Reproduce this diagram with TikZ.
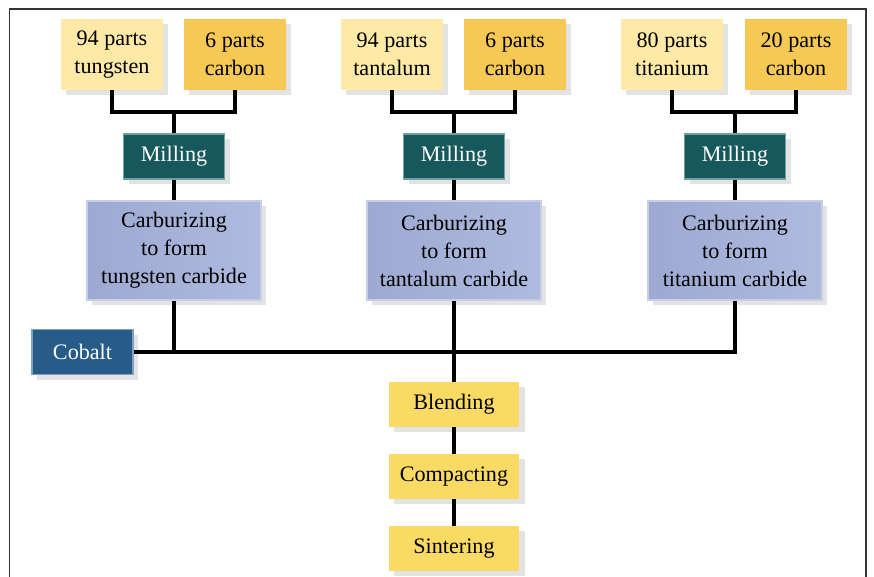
\documentclass[tikz,border=0pt]{standalone}
\usepackage{fontspec}
\setmainfont{Liberation Serif}
\usetikzlibrary{shadows}

\definecolor{metallight}{HTML}{FEE9A7}
\definecolor{carbonfill}{HTML}{F6C955}
\definecolor{millfill}{HTML}{16585B}
\definecolor{millline}{HTML}{6FA3A3}
\definecolor{carbleft}{HTML}{9DA9D1}
\definecolor{carbright}{HTML}{AEBADE}
\definecolor{carbline}{HTML}{C6CEEA}
\definecolor{cobaltfill}{HTML}{275C89}
\definecolor{cobaltline}{HTML}{7FA0C0}
\definecolor{stepfill}{HTML}{F8DA64}

\tikzset{
  box/.style={inner sep=0pt, align=center, font=\fontsize{12.6}{15.9}\selectfont,
    drop shadow={shadow xshift=3pt, shadow yshift=-3pt, fill=black!22}},
  metal/.style={box, fill=metallight, minimum width=2.04cm, minimum height=1.42cm},
  carbon/.style={box, fill=carbonfill, minimum width=2.04cm, minimum height=1.42cm},
  mill/.style={box, fill=millfill, draw=millline, line width=0.8pt, text=white,
    minimum width=2.02cm, minimum height=0.9cm},
  carb/.style={box, left color=carbleft, right color=carbright, draw=carbline,
    line width=0.8pt, minimum width=3.48cm, minimum height=1.98cm},
  cobaltbox/.style={box, fill=cobaltfill, draw=cobaltline, line width=0.6pt,
    text=white, minimum width=2.02cm, minimum height=0.9cm},
  stepbox/.style={box, fill=stepfill, minimum width=2.62cm, minimum height=0.9cm},
  link/.style={line width=1.8pt}
}

\begin{document}
\begin{tikzpicture}[x=0.02cm, y=-0.02cm]

    \useasboundingbox (0,0) rectangle (874,577);
    \draw[line width=0.8pt, black!80] (9.5,590) -- (9.5,9) -- (866,9) -- (866,590);

    \node[metal]  (tung)  at (112,54.5) {94 parts\\tungsten};
    \node[carbon] (carbA) at (235,54.5) {6 parts\\carbon};
    \node[mill]   (millA) at (174,156.5) {Milling};
    \node[carb]   (wc)    at (174,250.5) {Carburizing\\to form\\tungsten carbide};

    \node[metal]  (tant)  at (392,54.5) {94 parts\\tantalum};
    \node[carbon] (carbB) at (515,54.5) {6 parts\\carbon};
    \node[mill]   (millB) at (454,156.5) {Milling};
    \node[carb]   (tac)   at (454,250.5) {Carburizing\\to form\\tantalum carbide};

    \node[metal]  (tita)  at (672,54.5) {80 parts\\titanium};
    \node[carbon] (carbC) at (796,54.5) {20 parts\\carbon};
    \node[mill]   (millC) at (735,156.5) {Milling};
    \node[carb]   (tic)   at (735,250.5) {Carburizing\\to form\\titanium carbide};

    \node[cobaltbox] (cobalt) at (82.5,352) {Cobalt};

    \node[stepbox] (blend)   at (454,404.5) {Blending};
    \node[stepbox] (compact) at (454,476.5) {Compacting};
    \node[stepbox] (sinter)  at (454,548.5) {Sintering};

    \coordinate (jA) at (174,112);
    \coordinate (jB) at (454,112);
    \coordinate (jC) at (735,112);

    \draw[link] (tung.south) |- (jA) -| (carbA.south);
    \draw[link] (tant.south) |- (jB) -| (carbB.south);
    \draw[link] (tita.south) |- (jC) -| (carbC.south);
    \draw[link] (jA) -- (millA.north);
    \draw[link] (jB) -- (millB.north);
    \draw[link] (jC) -- (millC.north);
    \draw[link] (millA) -- (wc);
    \draw[link] (millB) -- (tac);
    \draw[link] (millC) -- (tic);

    \draw[link] (cobalt.east) -- (cobalt.east -| tic.south) -- (tic.south);
    \draw[link] (wc.south) -- (wc.south |- cobalt.east);
    \draw[link] (tac.south) -- (blend.north);
    \draw[link] (blend) -- (compact);
    \draw[link] (compact) -- (sinter);

\end{tikzpicture}
\end{document}
